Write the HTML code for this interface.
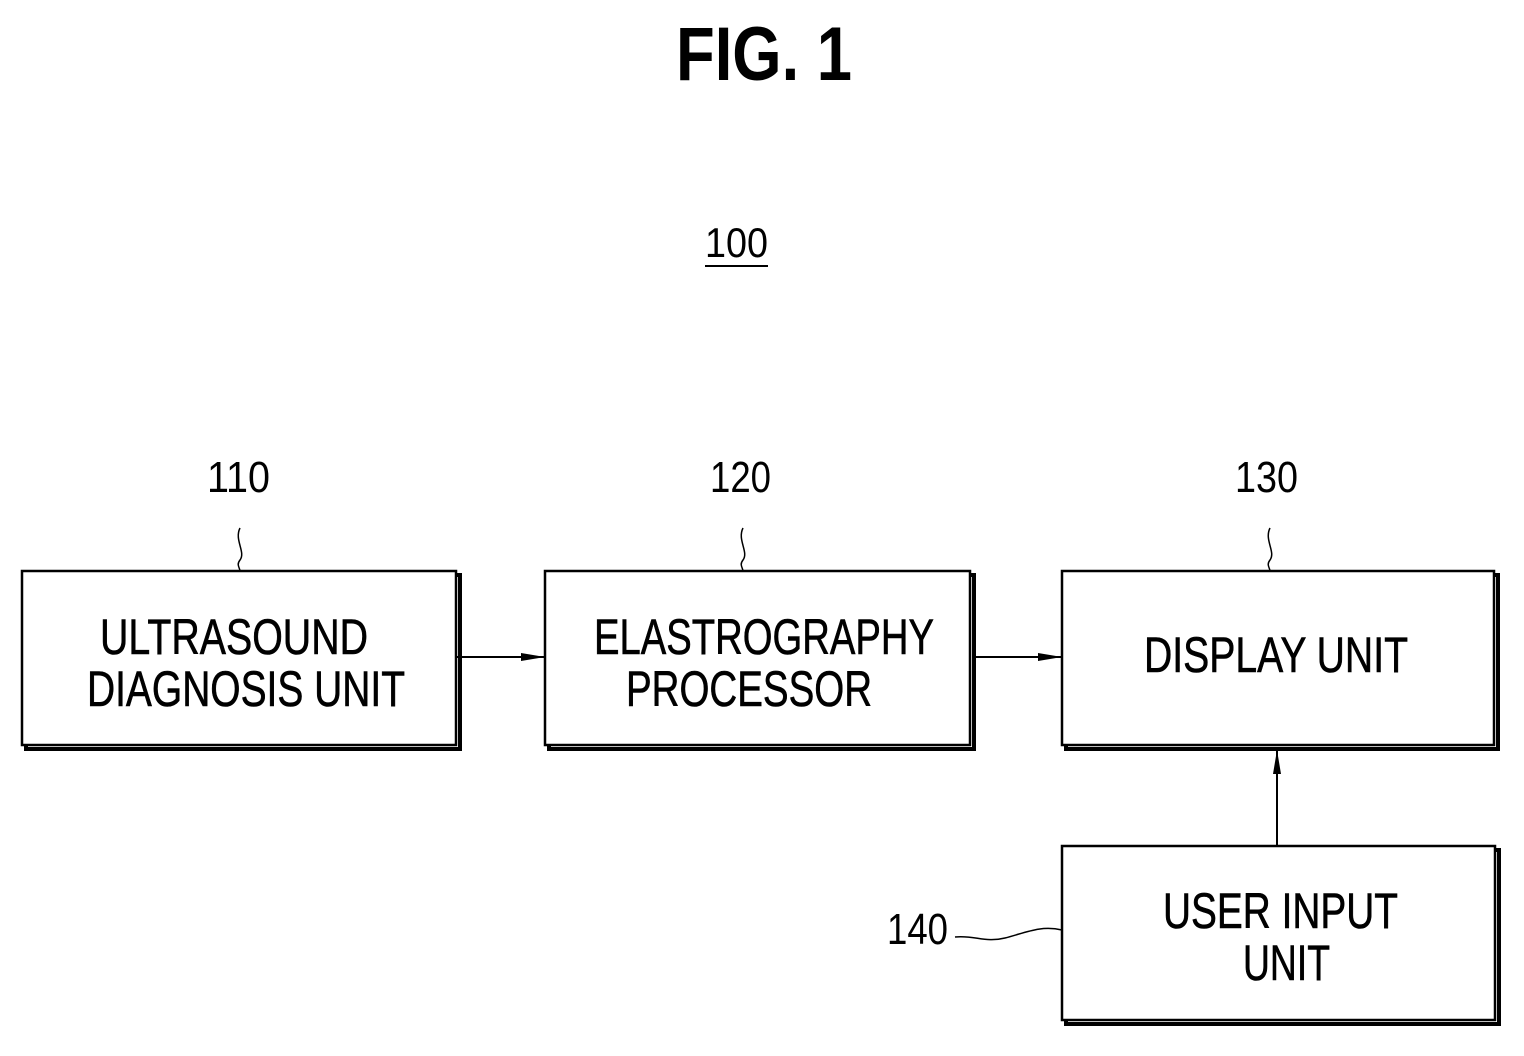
<!DOCTYPE html>
<html><head><style>html,body{margin:0;padding:0;background:#fff}</style></head><body>
<svg width="1524" height="1051" viewBox="0 0 1524 1051" xmlns="http://www.w3.org/2000/svg" font-family="'Liberation Sans Narrow','Liberation Sans',sans-serif">
<defs><marker id="a" markerWidth="24" markerHeight="10" refX="24" refY="5" orient="auto" markerUnits="userSpaceOnUse"><path d="M0,1 L24,5 L0,9 Z" fill="#000"/></marker></defs>
<text x="676" y="80" font-size="76" font-weight="bold" textLength="176" lengthAdjust="spacingAndGlyphs" font-family="'Liberation Sans',sans-serif">FIG. 1</text>
<text x="705" y="257" font-size="42" textLength="63" lengthAdjust="spacingAndGlyphs">100</text>
<line x1="705" y1="266" x2="768" y2="266" stroke="#000" stroke-width="2"/>
<g fill="none" stroke="#000">
<rect x="26" y="575" width="434" height="174" stroke-width="4"/>
<rect x="22" y="571" width="434" height="174" fill="#fff" stroke-width="2.5"/>
<rect x="549" y="575" width="425" height="174" stroke-width="4"/>
<rect x="545" y="571" width="425" height="174" fill="#fff" stroke-width="2.5"/>
<rect x="1066" y="575" width="432" height="174" stroke-width="4"/>
<rect x="1062" y="571" width="432" height="174" fill="#fff" stroke-width="2.5"/>
<rect x="1066" y="850" width="433" height="174" stroke-width="4"/>
<rect x="1062" y="846" width="433" height="174" fill="#fff" stroke-width="2.5"/>
<line x1="456" y1="657" x2="545" y2="657" stroke-width="2" marker-end="url(#a)"/>
<line x1="974" y1="657" x2="1062" y2="657" stroke-width="2" marker-end="url(#a)"/>
<line x1="1277" y1="846" x2="1277" y2="750" stroke-width="2" marker-end="url(#a)"/>
<path d="M240,528 C234,540 246,552 240,560 C236,565 240,568 240,571" stroke-width="1.5"/>
<path d="M743,528 C737,540 749,552 743,560 C739,565 743,568 743,571" stroke-width="1.5"/>
<path d="M1270,528 C1264,540 1276,552 1270,560 C1266,565 1270,568 1270,571" stroke-width="1.5"/>
<path d="M955,937 C975,935 985,943 1005,938 C1025,933 1040,925 1062,930" stroke-width="1.5"/>
</g>
<g font-size="44">
<text x="207" y="492" textLength="63" lengthAdjust="spacingAndGlyphs">110</text>
<text x="710" y="492" textLength="61" lengthAdjust="spacingAndGlyphs">120</text>
<text x="1235" y="492" textLength="63" lengthAdjust="spacingAndGlyphs">130</text>
<text x="887" y="944" textLength="61" lengthAdjust="spacingAndGlyphs">140</text>
</g>
<g font-size="50" stroke="#000" stroke-width="0.6">
<text x="100" y="654" textLength="268" lengthAdjust="spacingAndGlyphs">ULTRASOUND</text>
<text x="87" y="706" textLength="318" lengthAdjust="spacingAndGlyphs">DIAGNOSIS UNIT</text>
<text x="594" y="654" textLength="340" lengthAdjust="spacingAndGlyphs">ELASTROGRAPHY</text>
<text x="626" y="706" textLength="246" lengthAdjust="spacingAndGlyphs">PROCESSOR</text>
<text x="1144" y="672" textLength="264" lengthAdjust="spacingAndGlyphs">DISPLAY UNIT</text>
<text x="1163" y="928" textLength="235" lengthAdjust="spacingAndGlyphs">USER INPUT</text>
<text x="1243" y="980" textLength="87" lengthAdjust="spacingAndGlyphs">UNIT</text>
</g>
</svg>
</body></html>
